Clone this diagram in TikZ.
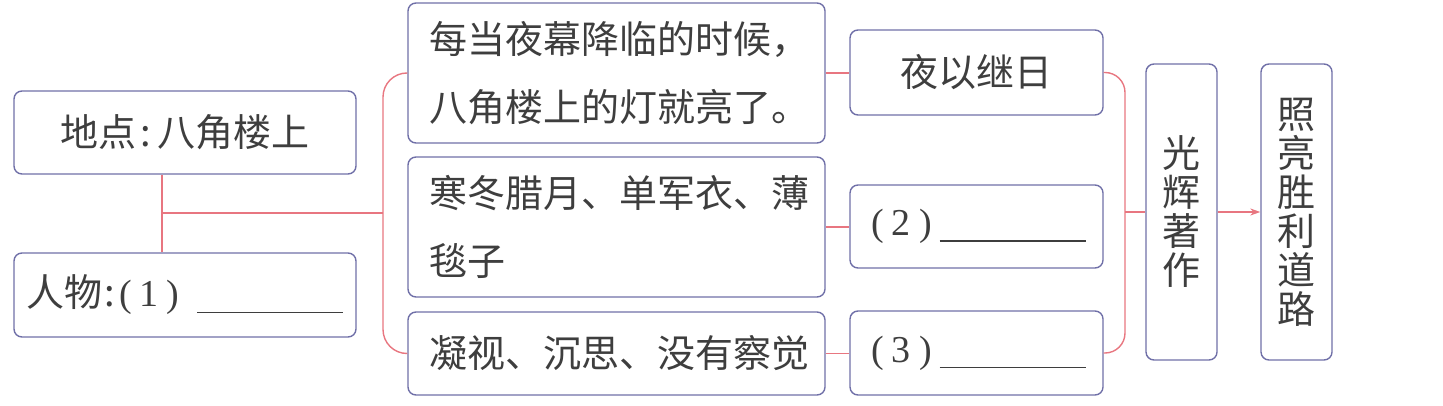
\documentclass[tikz,border=0pt]{standalone}
\usepackage{fontspec}
\newfontfamily\cjk{Noto Sans CJK SC}
\newfontfamily\numfont{Liberation Serif}
\usetikzlibrary{arrows.meta}

\definecolor{boxline}{RGB}{112,112,168}
\definecolor{linkred}{RGB}{232,118,128}
\definecolor{txtgray}{RGB}{62,62,62}

\tikzset{
    kuang/.style={draw=boxline, line width=0.7pt, rounded corners=4pt, text=txtgray,
        font=\cjk\fontsize{19}{34}\selectfont, inner sep=0pt, align=center},
    shukuang/.style={kuang, font=\cjk\fontsize{19}{19.5}\selectfont,
        minimum width=35.5pt, minimum height=148pt},
    xian/.style={draw=linkred, line width=0.7pt},
}
\newcommand{\kong}{\rule[-3pt]{73pt}{0.7pt}}
\newcommand{\hao}[2][9pt]{{\numfont\hspace{2pt}(\hspace{4pt}#2\hspace{4pt})\hspace{#1}}}

\begin{document}
\begin{tikzpicture}[x=0.5pt, y=-0.5pt]
    \useasboundingbox (0,0) rectangle (1443,406);

    % 左边：地点、人物
    \node[kuang, minimum width=171pt, minimum height=41.5pt] (didian) at (185,132.5)
        {地点\hspace{2pt}:\hspace{3pt}八角楼上};
    \node[kuang, minimum width=171pt, minimum height=42pt] (renwu) at (185,295)
        {人物\hspace{1pt}:\hao{1}\kong};

    % 中间三段
    \node[kuang, minimum width=208.5pt, minimum height=70pt, text width=187pt,
        align=left, inner xsep=10.75pt] (duan1) at (616.5,73)
        {每当夜幕降临的时候，\\八角楼上的灯就亮了。};
    \node[kuang, minimum width=208.5pt, minimum height=70pt, text width=187pt,
        align=left, inner xsep=10.75pt] (duan2) at (616.5,227)
        {寒冬腊月、单军衣、薄\\毯子};
    \node[kuang, minimum width=208.5pt, minimum height=41.5pt, text width=187pt,
        align=left, inner xsep=10.75pt] (duan3) at (616.5,353.5)
        {凝视、沉思、没有察觉};

    % 右边三个
    \node[kuang, minimum width=126.5pt, minimum height=42.5pt] (yeyi) at (976.5,72.5) {夜以继日};
    \node[kuang, minimum width=126.5pt, minimum height=41.5pt] (kong2) at (976.5,226.5) {\hao[4pt]{2}\kong};
    \node[kuang, minimum width=126.5pt, minimum height=42pt] (kong3) at (976.5,353) {\hao[4pt]{3}\kong};

    % 竖排
    \node[shukuang] (guanghui) at (1181.5,212) {光\\辉\\著\\作};
    \node[shukuang] (zhaoliang) at (1296.5,212) {照\\亮\\胜\\利\\道\\路};

    % 连线
    \coordinate (jiao) at (162,213);
    \coordinate (zuokuo) at (383,213);
    \coordinate (youkuo) at (1125,212);
    \draw[xian] (didian.south -| jiao) -- (renwu.north -| jiao);
    \draw[xian] (jiao) -- (zuokuo);
    \draw[xian, rounded corners=12pt] (duan1.west) -| (zuokuo) |- (duan3.west);

    \draw[xian] (duan1.east) -- (duan1.east -| yeyi.west);
    \draw[xian] (duan2.east) -- (duan2.east -| kong2.west);
    \draw[xian] (duan3.east) -- (duan3.east -| kong3.west);

    \draw[xian, rounded corners=10pt] (yeyi.east) -| (youkuo) |- (kong3.east);
    \draw[xian] (youkuo) -- (youkuo -| guanghui.west);
    \draw[xian, -{Stealth[length=5pt, width=3.5pt]}] (guanghui.east) -- (zhaoliang.west);
\end{tikzpicture}
\end{document}
